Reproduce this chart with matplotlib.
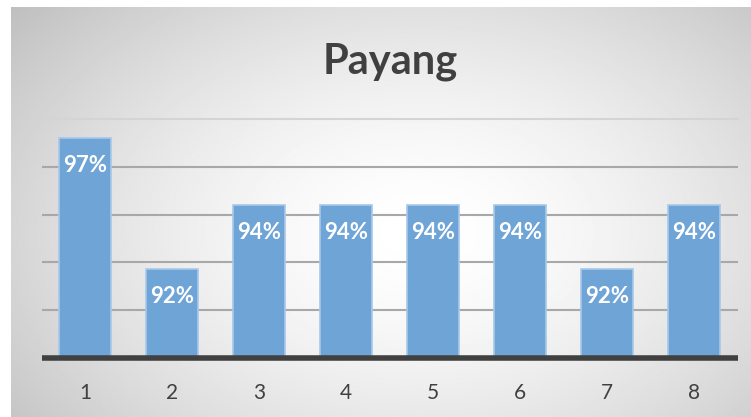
import matplotlib
matplotlib.use('Agg')
import matplotlib.pyplot as plt
import numpy as np

# data
categories = ['1', '2', '3', '4', '5', '6', '7', '8']
values = [0.972, 0.917, 0.944, 0.944, 0.944, 0.944, 0.917, 0.944]
labels = ['97%', '92%', '94%', '94%', '94%', '94%', '92%', '94%']
gridlines = [0.88, 0.90, 0.92, 0.94, 0.96, 0.98]

W, H = 751, 417
FONT = 'Lato'
BAR_COLOR = '#6fa4d7'
BAR_EDGE = '#a8c8e8'
TEXT_COLOR = '#404040'

fig = plt.figure(figsize=(W / 100, H / 100), dpi=100)
fig.patch.set_facecolor('white')

# radial gray gradient behind the chart
bg = fig.add_axes([11 / W, 0, (W - 11) / W, (H - 7) / H])
bg.set_axis_off()
yy, xx = np.mgrid[0:1:300j, 0:1:500j]
r = np.sqrt(((xx - 0.55) / 0.75) ** 2 + ((yy - 0.55) / 0.9) ** 2)
shade = 1.0 - 0.27 * np.clip(r, 0, 1.2) ** 1.6
bg.imshow(shade, cmap='gray', vmin=0, vmax=1, aspect='auto',
          extent=[0, 1, 0, 1], interpolation='bilinear')
bg.set_xlim(0, 1)
bg.set_ylim(0, 1)

ax = fig.add_axes([41.5 / W, 59.3 / H, 696 / W, 238.4 / H])
ax.patch.set_alpha(0)
x = np.arange(len(categories))
ax.bar(x, values, width=0.6, bottom=0, color=BAR_COLOR, edgecolor=BAR_EDGE,
       linewidth=1.2, zorder=3)
ax.set_ylim(gridlines[0], gridlines[-1])
ax.set_xlim(-0.5, len(categories) - 0.5)

for g in gridlines[1:-1]:
    ax.axhline(g, color='#a8a8a8', lw=1.5, zorder=1)
ax.axhline(gridlines[-1], color='#d4d4d4', lw=1.5, zorder=1, clip_on=False)
ax.axhline(gridlines[0], color='#404040', lw=4, zorder=4, clip_on=False,
           solid_capstyle='butt')

for xi, v, lab in zip(x, values, labels):
    ax.annotate(lab, (xi, v), xytext=(0, -27), textcoords='offset pixels',
                ha='center', va='center', color='white', fontsize=16,
                fontweight='bold', family=FONT, zorder=5)

ax.set_xticks(x)
ax.set_xticklabels(categories, family=FONT, fontsize=15, color=TEXT_COLOR)
ax.tick_params(axis='x', length=0, pad=18)
ax.set_yticks([])
for s in ax.spines.values():
    s.set_visible(False)

fig.text(390 / W, 1 - 62 / H, 'Payang', ha='center', va='center',
         fontsize=30, fontweight='bold', color=TEXT_COLOR, family=FONT)

fig.savefig('out.png', dpi=100)
